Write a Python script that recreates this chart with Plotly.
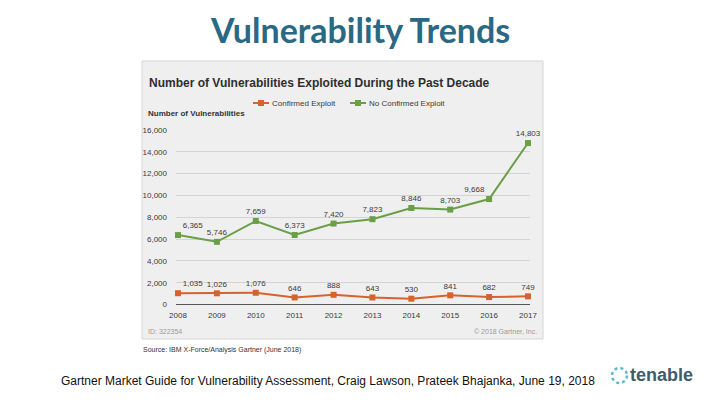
import plotly.graph_objects as go

years = [2008, 2009, 2010, 2011, 2012, 2013, 2014, 2015, 2016, 2017]
confirmed = [1035, 1026, 1076, 646, 888, 643, 530, 841, 682, 749]
no_confirmed = [6365, 5746, 7659, 6373, 7420, 7823, 8846, 8703, 9668, 14803]
series_names = ["Confirmed Exploit", "No Confirmed Exploit"]
y_ticks = [0, 2000, 4000, 6000, 8000, 10000, 12000, 14000, 16000]

W, H = 720, 405
def fx(px):
    return px / W
def fy(py):
    return (H - py) / H

ORANGE = "#d7622c"
GREEN = "#6a9f48"
TXT = "#3a3a3a"

pos_orange = ["top right"] + ["top center"] * (len(years) - 1)
pos_green = ["top right"] + ["top center"] * (len(years) - 3) + ["top left", "top center"]

fig = go.Figure()
for vals, name, col, pos in [(confirmed, series_names[0], ORANGE, pos_orange),
                             (no_confirmed, series_names[1], GREEN, pos_green)]:
    fig.add_trace(go.Scatter(
        x=years, y=vals, name=name,
        mode="lines+markers+text", text=[f"{v:,}" for v in vals], textposition=pos,
        textfont=dict(size=8, color=TXT, family="Liberation Sans"),
        line=dict(color=col, width=2), marker=dict(symbol="square", size=6, color=col),
        cliponaxis=False, showlegend=False,
    ))

x0, x1 = 176, 530
ppy = (528 - 178) / 9.0

shapes = [
    dict(type="rect", xref="paper", yref="paper", x0=fx(142), x1=fx(543), y0=fy(339), y1=fy(61),
         fillcolor="#efefef", line=dict(color="#d5d5d5", width=1), layer="below"),
    dict(type="circle", xref="paper", yref="paper", x0=fx(612), x1=fx(627), y0=fy(383), y1=fy(368),
         line=dict(color="#5bb8cc", width=2.5, dash="dot"), fillcolor="rgba(0,0,0,0)"),
]
annotations = [
    dict(text="<b>Vulnerability Trends</b>", xref="paper", yref="paper", x=fx(360), y=fy(29),
         xanchor="center", yanchor="middle", showarrow=False,
         font=dict(family="Lato", size=34, color="#2a6983")),
    dict(text="<b>Number of Vulnerabilities Exploited During the Past Decade</b>", xref="paper", yref="paper",
         x=fx(147), y=fy(83), xanchor="left", yanchor="middle", showarrow=False,
         font=dict(family="Liberation Sans", size=12, color="#2e2e2e")),
    dict(text="<b>Number of Vulnerabilities</b>", xref="paper", yref="paper",
         x=fx(146), y=fy(114), xanchor="left", yanchor="middle", showarrow=False,
         font=dict(family="Liberation Sans", size=8, color="#333333")),
    dict(text="ID: 322354", xref="paper", yref="paper",
         x=fx(146), y=fy(331), xanchor="left", yanchor="middle", showarrow=False,
         font=dict(family="Liberation Sans", size=7, color="#9a9a9a")),
    dict(text="© 2018 Gartner, Inc.", xref="paper", yref="paper",
         x=fx(539), y=fy(331), xanchor="right", yanchor="middle", showarrow=False,
         font=dict(family="Liberation Sans", size=7, color="#9a9a9a")),
    dict(text="Source: IBM X-Force/Analysis Gartner (June 2018)", xref="paper", yref="paper",
         x=fx(141), y=fy(350), xanchor="left", yanchor="middle", showarrow=False,
         font=dict(family="Liberation Sans", size=7, color="#333333")),
    dict(text="Gartner Market Guide for Vulnerability Assessment, Craig Lawson, Prateek Bhajanka, June 19, 2018",
         xref="paper", yref="paper", x=fx(59), y=fy(381), xanchor="left", yanchor="middle", showarrow=False,
         font=dict(family="Liberation Sans", size=12, color="#111111")),
    dict(text="<b>tenable</b>", xref="paper", yref="paper", x=fx(628), y=fy(375),
         xanchor="left", yanchor="middle", showarrow=False,
         font=dict(family="Liberation Sans", size=18, color="#3d5d6c")),
]

# manual legend
LEG_Y = 103
legend_items = [(253, series_names[0], ORANGE), (350, series_names[1], GREEN)]
for lx, name, col in legend_items:
    shapes.append(dict(type="line", xref="paper", yref="paper", x0=fx(lx), x1=fx(lx + 16),
                       y0=fy(LEG_Y), y1=fy(LEG_Y), line=dict(color=col, width=2)))
    shapes.append(dict(type="rect", xref="paper", yref="paper", x0=fx(lx + 5), x1=fx(lx + 11),
                       y0=fy(LEG_Y + 3), y1=fy(LEG_Y - 3), fillcolor=col, line=dict(width=0)))
    annotations.append(dict(text=name, xref="paper", yref="paper", x=fx(lx + 17), y=fy(LEG_Y),
                            xanchor="left", yanchor="middle", showarrow=False,
                            font=dict(family="Liberation Sans", size=8, color=TXT)))

fig.update_layout(
    template="none",
    width=W, height=H,
    margin=dict(l=0, r=0, t=0, b=0, pad=0, autoexpand=False),
    paper_bgcolor="white", plot_bgcolor="rgba(0,0,0,0)",
    font=dict(family="Liberation Sans", color=TXT),
    showlegend=False,
    xaxis=dict(domain=[fx(x0), fx(x1)], range=[2008 - (178 - x0) / ppy, 2017 + (x1 - 528) / ppy],
               tickmode="array", tickvals=years, ticktext=[str(y) for y in years],
               showgrid=False, zeroline=False, showline=False, automargin=False,
               tickfont=dict(size=8, color=TXT), ticks="", ticklabelstandoff=4),
    yaxis=dict(domain=[fy(304.5), fy(130)], range=[0, 16000], automargin=False,
               tickmode="array", tickvals=y_ticks, ticktext=[f"{v:,}" for v in y_ticks],
               showgrid=True, gridcolor="#d4d4d4", gridwidth=1,
               zeroline=True, zerolinecolor="#555555", zerolinewidth=1,
               tickfont=dict(size=8, color=TXT), ticks="", ticklabelstandoff=8),
    shapes=shapes,
    annotations=annotations,
)

fig.write_html("out.html", config={"displayModeBar": False},
               post_script="document.body.style.margin='0';document.body.style.padding='0';")
